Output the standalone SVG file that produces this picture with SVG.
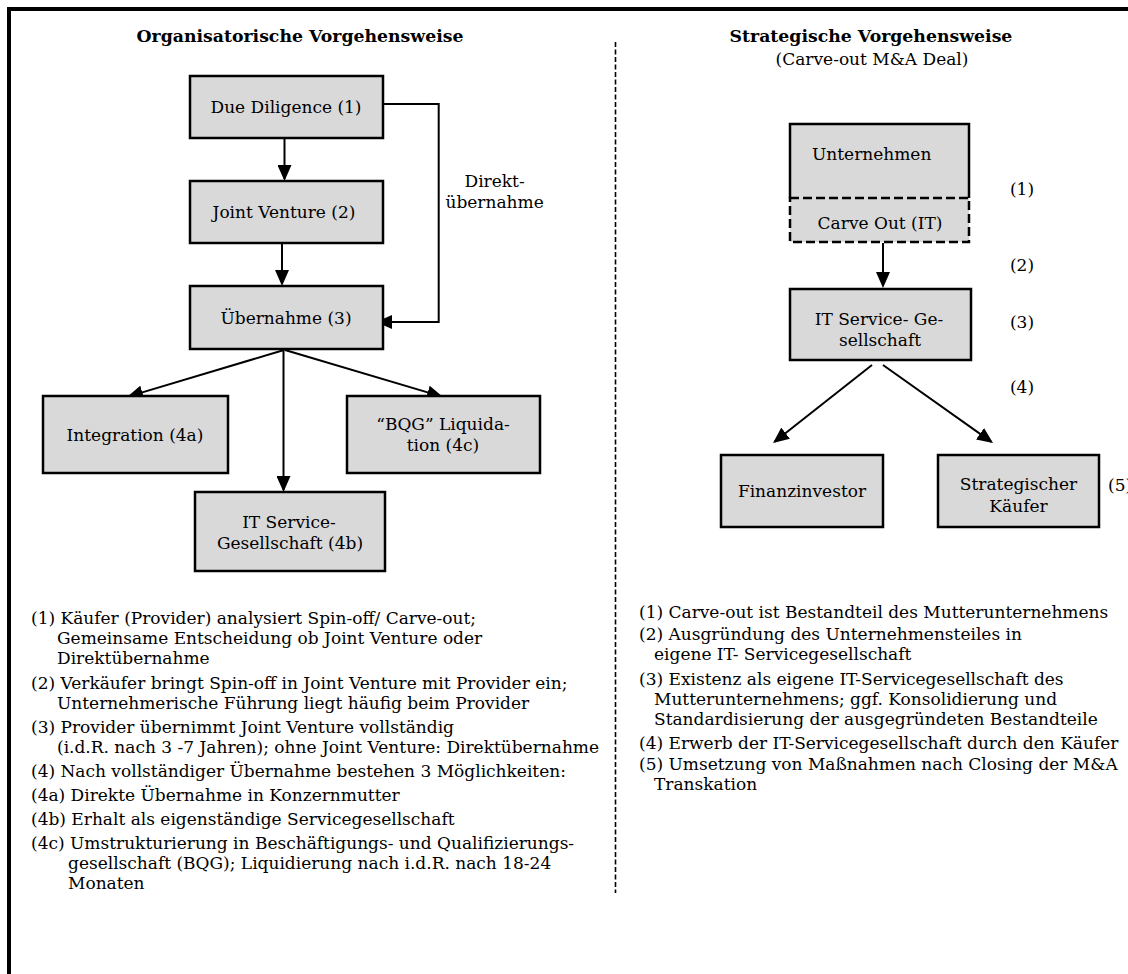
<svg xmlns="http://www.w3.org/2000/svg" width="1128" height="974" viewBox="0 0 1128 974">
<style>
  text { font-family: 'DejaVu Serif', 'Liberation Serif', serif; font-size: 17px; fill: #000; }
  .title { font-weight: bold; font-size: 17.3px; }
  .c { text-anchor: middle; }
  .box { fill: #d9d9d9; stroke: #000; stroke-width: 2.5; }
  .conn { fill: none; stroke: #000; stroke-width: 2; }
  .dash { fill: none; stroke: #000; stroke-width: 2.5; stroke-dasharray: 9 4; }
</style>
<defs>
  <marker id="arrow" viewBox="0 0 16 14" refX="14" refY="7" markerWidth="16" markerHeight="14" markerUnits="userSpaceOnUse" orient="auto">
    <path d="M0,0 L16,7 L0,14 z" fill="#000"/>
  </marker>
</defs>
<rect width="1128" height="974" fill="#fff"/>
<path d="M9,974 V9 H1128" fill="none" stroke="#000" stroke-width="4"/>
<line x1="615.5" y1="42" x2="615.5" y2="893" stroke="#000" stroke-width="1.6" stroke-dasharray="5 2.5"/>

<text class="title c" x="300" y="42">Organisatorische Vorgehensweise</text>
<text class="title c" x="871" y="42">Strategische Vorgehensweise</text>
<text class="c" x="872" y="65">(Carve-out M&amp;A Deal)</text>

<g id="connectors">
  <line class="conn" x1="284.5" y1="138" x2="284.5" y2="179" marker-end="url(#arrow)"/>
  <line class="conn" x1="282" y1="243" x2="282" y2="284" marker-end="url(#arrow)"/>
  <path class="conn" d="M383,104 H438.7 V322 H378" marker-end="url(#arrow)"/>
  <line class="conn" x1="284" y1="350" x2="128.9" y2="396.4" marker-end="url(#arrow)"/>
  <line class="conn" x1="283.5" y1="350" x2="283.5" y2="490" marker-end="url(#arrow)"/>
  <line class="conn" x1="285" y1="350" x2="441.1" y2="396.4" marker-end="url(#arrow)"/>
  <line class="conn" x1="883" y1="243" x2="883" y2="286" marker-end="url(#arrow)"/>
  <line class="conn" x1="872" y1="365" x2="774.6" y2="441.8" marker-end="url(#arrow)"/>
  <line class="conn" x1="883" y1="365" x2="991.4" y2="441.9" marker-end="url(#arrow)"/>
  <text class="c" x="494.6" y="187">Direkt-</text>
  <text class="c" x="494.6" y="208">übernahme</text>
</g>

<g id="due-diligence">
  <rect class="box" x="190" y="76" width="193" height="62"/>
  <text class="c" x="286" y="113">Due Diligence (1)</text>
</g>
<g id="joint-venture">
  <rect class="box" x="190" y="181" width="193" height="62"/>
  <text class="c" x="284" y="218">Joint Venture (2)</text>
</g>
<g id="uebernahme">
  <rect class="box" x="190" y="286" width="193" height="63"/>
  <text class="c" x="286" y="324">Übernahme (3)</text>
</g>
<g id="integration">
  <rect class="box" x="43" y="396" width="185" height="77"/>
  <text class="c" x="135" y="441">Integration (4a)</text>
</g>
<g id="bqg">
  <rect class="box" x="347" y="396" width="193" height="77"/>
  <text class="c" x="443" y="430">“BQG” Liquida-</text>
  <text class="c" x="443" y="451">tion (4c)</text>
</g>
<g id="it-service-4b">
  <rect class="box" x="195" y="492" width="190" height="79"/>
  <text class="c" x="289" y="528">IT Service-</text>
  <text class="c" x="290" y="549">Gesellschaft (4b)</text>
</g>

<g id="unternehmen">
  <rect x="790" y="124" width="179" height="118" fill="#d9d9d9"/>
  <path d="M790,198 V124 H969 V198" fill="none" stroke="#000" stroke-width="2.5"/>
  <rect class="dash" x="790" y="198" width="179" height="44"/>
  <text x="812" y="160">Unternehmen</text>
  <text class="c" x="880" y="229">Carve Out (IT)</text>
</g>
<g id="it-service-gesellschaft">
  <rect class="box" x="790" y="289" width="181" height="71"/>
  <text class="c" x="879" y="325">IT Service- Ge-</text>
  <text class="c" x="880" y="346">sellschaft</text>
</g>
<g id="finanzinvestor">
  <rect class="box" x="721" y="455" width="162" height="72"/>
  <text class="c" x="802" y="497">Finanzinvestor</text>
</g>
<g id="strategischer-kaeufer">
  <rect class="box" x="938" y="455" width="161" height="72"/>
  <text class="c" x="1018.5" y="490">Strategischer</text>
  <text class="c" x="1018.5" y="512">Käufer</text>
</g>

<g id="step-labels">
  <text class="c" x="1022" y="195">(1)</text>
  <text class="c" x="1022" y="271">(2)</text>
  <text class="c" x="1022" y="328">(3)</text>
  <text class="c" x="1022" y="393">(4)</text>
  <text x="1108" y="491">(5)</text>
</g>

<g id="notes-left">
  <text x="31" y="624">(1) Käufer (Provider) analysiert Spin-off/ Carve-out;</text>
  <text x="57" y="644">Gemeinsame Entscheidung ob Joint Venture oder</text>
  <text x="57" y="664">Direktübernahme</text>
  <text x="31" y="689">(2) Verkäufer bringt Spin-off in Joint Venture mit Provider ein;</text>
  <text x="57" y="709">Unternehmerische Führung liegt häufig beim Provider</text>
  <text x="31" y="733">(3) Provider übernimmt Joint Venture vollständig</text>
  <text x="57" y="753">(i.d.R. nach 3 -7 Jahren); ohne Joint Venture: Direktübernahme</text>
  <text x="31" y="777">(4) Nach vollständiger Übernahme bestehen 3 Möglichkeiten:</text>
  <text x="31" y="801">(4a) Direkte Übernahme in Konzernmutter</text>
  <text x="31" y="825">(4b) Erhalt als eigenständige Servicegesellschaft</text>
  <text x="31" y="849">(4c) Umstrukturierung in Beschäftigungs- und Qualifizierungs-</text>
  <text x="68" y="869">gesellschaft (BQG); Liquidierung nach i.d.R. nach 18-24</text>
  <text x="68" y="889">Monaten</text>
</g>
<g id="notes-right">
  <text x="639" y="618">(1) Carve-out ist Bestandteil des Mutterunternehmens</text>
  <text x="639" y="640">(2) Ausgründung des Unternehmensteiles in</text>
  <text x="654" y="660">eigene IT- Servicegesellschaft</text>
  <text x="639" y="685">(3) Existenz als eigene IT-Servicegesellschaft des</text>
  <text x="654" y="705">Mutterunternehmens; ggf. Konsolidierung und</text>
  <text x="654" y="725">Standardisierung der ausgegründeten Bestandteile</text>
  <text x="639" y="749">(4) Erwerb der IT-Servicegesellschaft durch den Käufer</text>
  <text x="639" y="770">(5) Umsetzung von Maßnahmen nach Closing der M&amp;A</text>
  <text x="654" y="790">Transkation</text>
</g>
</svg>
